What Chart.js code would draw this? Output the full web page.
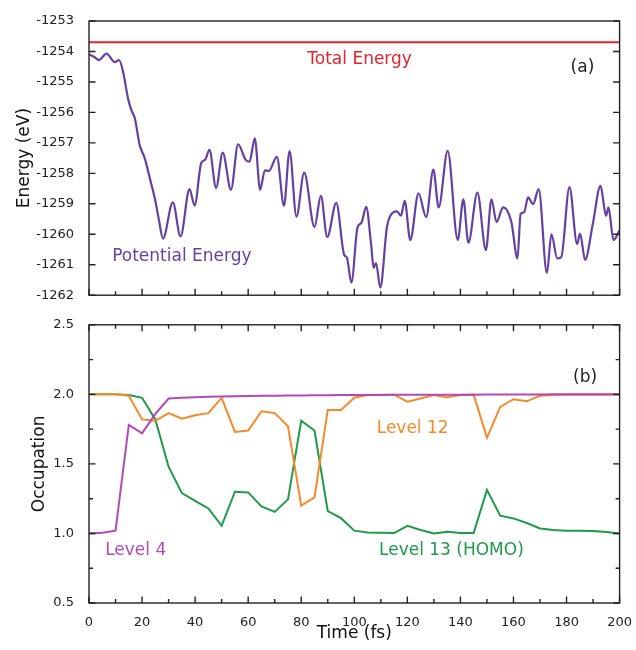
<!DOCTYPE html>
<html>
<head>
<meta charset="utf-8">
<script src="https://cdn.jsdelivr.net/npm/chart.js@4/dist/chart.umd.min.js"></script>
<style>
  body { margin: 0; background: #fff; }
  .panel { position: relative; width: 636px; }
  #top { height: 310px; }
  #bottom { height: 340px; }
</style>
</head>
<body>
<div class="panel" id="top"><canvas id="energyChart"></canvas></div>
<div class="panel" id="bottom"><canvas id="occChart"></canvas></div>
<script>
// panel (a): energies
const peTime = [0, 2, 3.75, 6.6, 9.75, 11.3, 12.9, 14.75, 16, 17.3, 19.1, 21, 22.9, 25, 26.3, 27.9,
  31.6, 34.5, 37.9, 39.8, 42.3, 43.8, 45.4, 47.9, 50.4, 53.5, 56.2, 59, 60.5, 62.5, 64.5, 66.3,
  67.8, 70.8, 73.5, 75.6, 78.2, 81.1, 85, 87.4, 89.8, 93.2, 96.2, 97.2, 98.9, 101.2, 102.7, 104.5,
  106.3, 107.3, 108.2, 109.8, 112.3, 113.6, 116.1, 117.6, 119, 121.1, 124.2, 127.1, 129.8, 131.8,
  135.2, 139, 141.1, 143, 146.4, 149.6, 151.7, 153.6, 156.1, 159.2, 161.5, 162.7, 164, 165.5,
  167.4, 169.5, 172.6, 174.3, 176.5, 178, 181.1, 184, 185.1, 187, 189.9, 192.8, 194.9, 195.8,
  197.7, 200];
const peEnergy = [-1254.10, -1254.18, -1254.28, -1254.07, -1254.35, -1254.28, -1254.69, -1255.56,
  -1255.93, -1256.2, -1257.07, -1257.5, -1258.15, -1258.9, -1259.5, -1260.14,
  -1258.95, -1260.07, -1258.52, -1259.06, -1257.66, -1257.55, -1257.23, -1258.48, -1257.32,
  -1258.54, -1257.05, -1257.55, -1257.62, -1256.85, -1258.54, -1257.9,
  -1257.92, -1257.46, -1259.06, -1257.27, -1259.42, -1257.98, -1259.76, -1258.74, -1260.09,
  -1258.97, -1260.68, -1260.76, -1261.59, -1259.78, -1259.62, -1259.1,
  -1260.3, -1261.1, -1260.95, -1261.75, -1259.76, -1259.39, -1259.25, -1259.39, -1258.9,
  -1260.19, -1258.66, -1259.44, -1257.88, -1259.12,
  -1257.26, -1260.19, -1258.85, -1260.28, -1258.63, -1260.52, -1258.85, -1259.6, -1259.12,
  -1259.6, -1260.79, -1259.33, -1259.28, -1258.79,
  -1259.01, -1258.52, -1261.27, -1260.0, -1260.79, -1260.75, -1258.45, -1260.32, -1259.98,
  -1260.84, -1259.66, -1258.41, -1259.39, -1259.12,
  -1260.19, -1259.87];
const totalTime = [0, 200];
const totalEnergy = [-1253.7, -1253.7];

// panel (b): occupations every 5 fs
const occTime = [0, 5, 10, 15, 20, 25, 30, 35, 40, 45, 50, 55, 60, 65, 70, 75, 80, 85, 90, 95, 100,
  105, 110, 115, 120, 125, 130, 135, 140, 145, 150, 155, 160, 165, 170, 175, 180, 185, 190, 195, 200];
const level4 = [1.0, 1.005, 1.02, 1.78, 1.72, 1.86, 1.97, 1.975, 1.98, 1.982, 1.985, 1.987, 1.988,
  1.99, 1.99, 1.991, 1.992, 1.993, 1.994, 1.995, 1.995, 1.996, 1.996, 1.997, 1.997, 1.997, 1.998,
  1.998, 1.998, 1.998, 1.999, 1.999, 1.999, 1.999, 1.999, 2.0, 2.0, 2.0, 2.0, 2.0, 2.0];
const level12 = [2.0, 2.0, 2.0, 1.99, 1.82, 1.81, 1.865, 1.825, 1.85, 1.865, 1.975, 1.73, 1.74,
  1.878, 1.865, 1.77, 1.2, 1.26, 1.887, 1.887, 1.976, 1.995, 1.998, 1.998, 1.947, 1.97, 1.995,
  1.98, 1.995, 1.998, 1.687, 1.91, 1.965, 1.95, 1.99, 1.995, 1.997, 1.997, 1.998, 1.998, 1.998];
const level13 = [2.0, 2.0, 2.0, 1.995, 1.975, 1.82, 1.48, 1.29, 1.235, 1.18, 1.055, 1.3, 1.295,
  1.195, 1.155, 1.245, 1.81, 1.74, 1.16, 1.11, 1.02, 1.007, 1.005, 1.003, 1.055, 1.025, 1.0,
  1.012, 1.003, 1.003, 1.313, 1.128, 1.108, 1.075, 1.036, 1.024, 1.02, 1.02, 1.017, 1.01, 1.0];

const FONT = "'DejaVu Sans', Verdana, sans-serif";
const pts = (xs, ys) => xs.map((x, i) => ({ x: x, y: ys[i] }));
const isMultiple = (v, step) => Math.abs(v / step - Math.round(v / step)) < 1e-6;

// box round the plot area plus inward tick marks
const frameTicks = {
  id: 'frameTicks',
  afterDraw(chart, args, opts) {
    const { ctx, chartArea: a, scales } = chart;
    ctx.save();
    ctx.strokeStyle = '#222';
    ctx.lineWidth = 1.4;
    ctx.strokeRect(a.left, a.top, a.right - a.left, a.bottom - a.top);
    ctx.lineWidth = 1.4;
    ctx.beginPath();
    scales.x.ticks.forEach(t => {
      const px = scales.x.getPixelForValue(t.value);
      const len = isMultiple(t.value, 20) ? 6.5 : 4;
      ctx.moveTo(px, a.bottom); ctx.lineTo(px, a.bottom - len);
      if (opts.topTicks) { ctx.moveTo(px, a.top); ctx.lineTo(px, a.top + len); }
    });
    scales.y.ticks.forEach(t => {
      const py = scales.y.getPixelForValue(t.value);
      const len = isMultiple(t.value, opts.majorY) ? 6.5 : 4;
      ctx.moveTo(a.left, py); ctx.lineTo(a.left + len, py);
      ctx.moveTo(a.right, py); ctx.lineTo(a.right - len, py);
    });
    ctx.stroke();
    ctx.restore();
  }
};

// text labels placed in data units
const textLabels = {
  id: 'textLabels',
  afterDatasetsDraw(chart, args, opts) {
    const { ctx, scales } = chart;
    ctx.save();
    ctx.font = '17px ' + FONT;
    ctx.textAlign = 'center';
    ctx.textBaseline = 'middle';
    opts.items.forEach(it => {
      ctx.fillStyle = it.color;
      ctx.fillText(it.text, scales.x.getPixelForValue(it.x), scales.y.getPixelForValue(it.y));
    });
    ctx.restore();
  }
};

const xTicks = { stepSize: 10, color: '#222', padding: 4, maxRotation: 0, minRotation: 0,
  autoSkip: false, font: { family: FONT, size: 13 },
  callback: v => (isMultiple(v, 20) ? v : '') };

new Chart(document.getElementById('energyChart'), {
  type: 'line',
  data: {
    datasets: [
      { data: pts(totalTime, totalEnergy), borderColor: '#e3232e', borderWidth: 2, pointRadius: 0 },
      { data: pts(peTime, peEnergy), borderColor: '#6341a3', borderWidth: 2.2, pointRadius: 0,
        cubicInterpolationMode: 'monotone' }
    ]
  },
  options: {
    responsive: true, maintainAspectRatio: false, animation: false,
    layout: { padding: { top: 21, right: 14, left: 0, bottom: 0 } },
    plugins: {
      legend: { display: false }, tooltip: { enabled: false },
      frameTicks: { topTicks: false, majorY: 1 },
      textLabels: { items: [
        { text: 'Total Energy', x: 102, y: -1254.26, color: '#e3232e' },
        { text: '(a)', x: 186, y: -1254.52, color: '#222' },
        { text: 'Potential Energy', x: 35, y: -1260.73, color: '#6341a3' }
      ] }
    },
    scales: {
      x: {
        type: 'linear', min: 0, max: 200,
        grid: { display: false }, border: { display: false },
        ticks: Object.assign({}, xTicks, { color: 'rgba(0,0,0,0)' }),
        afterFit: s => { s.height = 11; }
      },
      y: {
        min: -1262, max: -1253,
        grid: { display: false }, border: { display: false },
        ticks: { stepSize: 0.5, color: '#222', padding: 7, font: { family: FONT, size: 13 },
          callback: v => (isMultiple(v, 1) ? v : '') },
        title: { display: true, text: 'Energy (eV)', color: '#111',
          font: { family: FONT, size: 17 }, padding: { top: 14, bottom: 0 } },
        afterFit: s => { s.width = 89; }
      }
    }
  },
  plugins: [frameTicks, textLabels]
});

new Chart(document.getElementById('occChart'), {
  type: 'line',
  data: {
    datasets: [
      { data: pts(occTime, level4), borderColor: '#b14ab7', borderWidth: 2, pointRadius: 0, tension: 0 },
      { data: pts(occTime, level12), borderColor: '#f48a2c', borderWidth: 2, pointRadius: 0, tension: 0 },
      { data: pts(occTime, level13), borderColor: '#1e9a48', borderWidth: 2, pointRadius: 0, tension: 0 }
    ]
  },
  options: {
    responsive: true, maintainAspectRatio: false, animation: false,
    layout: { padding: { top: 14, right: 14, left: 0, bottom: 0 } },
    plugins: {
      legend: { display: false }, tooltip: { enabled: false },
      frameTicks: { topTicks: true, majorY: 0.5 },
      textLabels: { items: [
        { text: '(b)', x: 187, y: 2.12, color: '#222' },
        { text: 'Level 12', x: 122, y: 1.755, color: '#f48a2c' },
        { text: 'Level 4', x: 17.6, y: 0.88, color: '#b14ab7' },
        { text: 'Level 13 (HOMO)', x: 136.6, y: 0.88, color: '#1e9a48' }
      ] }
    },
    scales: {
      x: {
        type: 'linear', min: 0, max: 200,
        grid: { display: false }, border: { display: false },
        ticks: xTicks,
        title: { display: true, text: 'Time (fs)', color: '#111',
          font: { family: FONT, size: 17 }, padding: { top: 0, bottom: 6 } },
        afterFit: s => { s.height = 47; }
      },
      y: {
        min: 0.5, max: 2.5,
        grid: { display: false }, border: { display: false },
        ticks: { stepSize: 0.25, color: '#222', padding: 7, font: { family: FONT, size: 13 },
          callback: v => (isMultiple(v, 0.5) ? v.toFixed(1) : '') },
        title: { display: true, text: 'Occupation', color: '#111',
          font: { family: FONT, size: 17 }, padding: { top: 29, bottom: 0 } },
        afterFit: s => { s.width = 89; }
      }
    }
  },
  plugins: [frameTicks, textLabels]
});
</script>
</body>
</html>
